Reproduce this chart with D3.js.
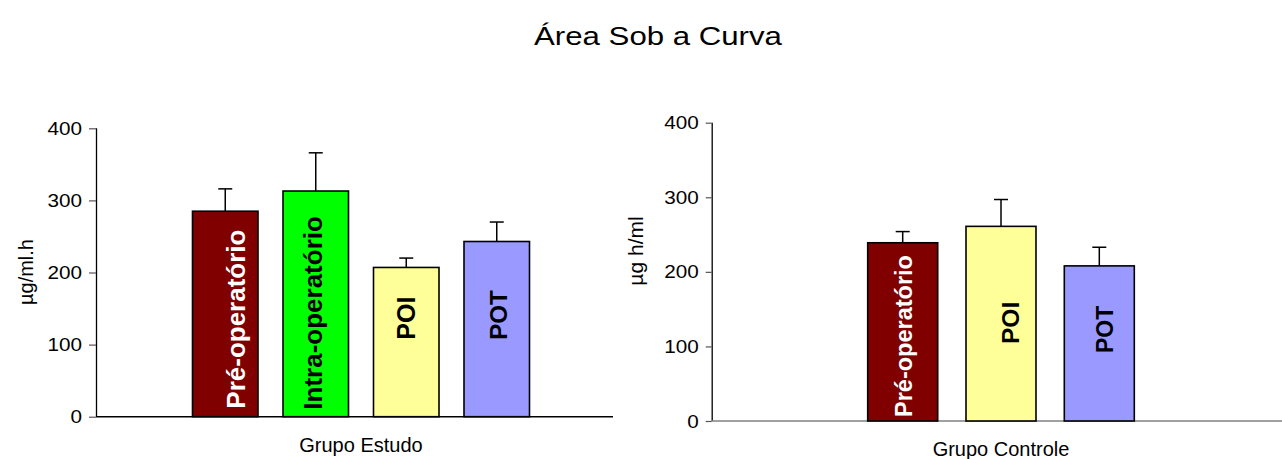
<!DOCTYPE html>
<html>
<head>
<meta charset="utf-8">
<script src="https://cdn.jsdelivr.net/npm/d3@7"></script>
<style>
  html, body { margin: 0; padding: 0; background: #fff; }
  svg { display: block; font-family: Arial, "Liberation Sans", sans-serif; }
</style>
</head>
<body>
<svg id="chart" width="1282" height="459"></svg>
<script>
// Área sob a curva — grupo estudo e grupo controle
const title = "Área Sob a Curva";
const yTicks = [0, 100, 200, 300, 400];

const estudoCats   = ["Pré-operatório", "Intra-operatório", "POI", "POT"];
const estudoMeans  = [285, 313, 207, 243];
const estudoErrors = [31, 53, 13, 27];

const controleCats   = ["Pré-operatório", "POI", "POT"];
const controleMeans  = [239, 261, 208];
const controleErrors = [15, 36, 25];

const fills = {
  "Pré-operatório": "#800000",
  "Intra-operatório": "#00ff00",
  "POI": "#ffff99",
  "POT": "#9999ff"
};
const labelColors = {
  "Pré-operatório": "#ffffff",
  "Intra-operatório": "#000000",
  "POI": "#000000",
  "POT": "#000000"
};

const svg = d3.select("#chart");

// horizontally widened text, anchored at (x, y)
function wideText(g, x, y, str, size, sx, anchor) {
  return g.append("text")
    .attr("transform", `translate(${x},${y}) scale(${sx},1)`)
    .attr("text-anchor", anchor)
    .attr("font-size", size)
    .attr("fill", "#000")
    .text(str);
}

wideText(svg, 658, 45, title, 26, 1.2, "middle");

const panels = [
  {
    cats: estudoCats, means: estudoMeans, errs: estudoErrors,
    group: "Grupo Estudo", yLabel: "µg/ml.h",
    axisX: 96, xEnd: 613, yTop: 128.3, yBot: 416.7,
    center: 361, step: 90.5, barW: 65.5, tick: 7,
    baseColor: "#000", yLabelX: 28, yLabelY: 272, yLabelSize: 20,
    groupY: 452, labelSize: [26, 26, 25, 24],
    labelEnd: [8, 7, 77, 77], labelDx: [9, -4, -2, 0]
  },
  {
    cats: controleCats, means: controleMeans, errs: controleErrors,
    group: "Grupo Controle", yLabel: "µg h/ml",
    axisX: 711.7, xEnd: 1282, yTop: 122.7, yBot: 421,
    center: 1001, step: 98.3, barW: 70, tick: 6,
    baseColor: "#808080", yLabelX: 637, yLabelY: 251, yLabelSize: 21,
    groupY: 456, labelSize: [23.5, 24.5, 23],
    labelEnd: [4, 77, 68], labelDx: [0, 8, 4]
  }
];

panels.forEach(p => {
  const g = svg.append("g");
  const y = d3.scaleLinear().domain([0, 400]).range([p.yBot, p.yTop]);
  const n = p.cats.length;
  const pad = 1 - p.barW / p.step;
  const x = d3.scaleBand()
    .domain(p.cats)
    .range([p.center - n * p.step / 2, p.center + n * p.step / 2])
    .paddingInner(pad)
    .paddingOuter(pad / 2);

  // y axis
  const yAxis = d3.axisLeft(y).tickValues(yTicks).tickSize(p.tick).tickPadding(0).tickFormat(() => "");
  const ax = g.append("g").attr("transform", `translate(${p.axisX},0)`).call(yAxis);
  ax.select(".domain").attr("stroke", "#000").attr("stroke-width", 1.3).attr("d", `M0.5,${p.yTop}V${p.yBot}`);
  ax.selectAll(".tick line").attr("stroke", "#555").attr("stroke-width", 1.2);
  yTicks.forEach(t => {
    wideText(g, p.axisX - p.tick - 7, y(t) + 6.5, String(t), 18, 1.15, "end");
  });

  // baseline
  g.append("line")
    .attr("x1", p.axisX).attr("x2", p.xEnd)
    .attr("y1", y(0)).attr("y2", y(0))
    .attr("stroke", p.baseColor).attr("stroke-width", 1.5);

  // y axis title
  g.append("text")
    .attr("transform", `translate(${p.yLabelX},${p.yLabelY}) rotate(-90)`)
    .attr("text-anchor", "middle")
    .attr("dominant-baseline", "middle")
    .attr("font-size", p.yLabelSize)
    .text(p.yLabel);

  // group label
  g.append("text")
    .attr("x", p.center).attr("y", p.groupY)
    .attr("text-anchor", "middle")
    .attr("font-size", 20)
    .text(p.group);

  // error bars (upper only)
  p.cats.forEach((c, i) => {
    const cx = x(c) + x.bandwidth() / 2;
    g.append("line")
      .attr("x1", cx).attr("x2", cx)
      .attr("y1", y(p.means[i])).attr("y2", y(p.means[i] + p.errs[i]))
      .attr("stroke", "#000").attr("stroke-width", 1.5);
    g.append("line")
      .attr("x1", cx - 7).attr("x2", cx + 7)
      .attr("y1", y(p.means[i] + p.errs[i])).attr("y2", y(p.means[i] + p.errs[i]))
      .attr("stroke", "#000").attr("stroke-width", 1.5);
  });

  // bars
  g.selectAll("rect.bar")
    .data(p.cats)
    .join("rect")
    .attr("class", "bar")
    .attr("x", c => x(c))
    .attr("width", x.bandwidth())
    .attr("y", (c, i) => y(p.means[i]))
    .attr("height", (c, i) => y(0) - y(p.means[i]))
    .attr("fill", c => fills[c])
    .attr("stroke", "#000")
    .attr("stroke-width", 1.6);

  // rotated bar labels
  p.cats.forEach((c, i) => {
    const cx = x(c) + x.bandwidth() / 2 + p.labelDx[i];
    g.append("text")
      .attr("transform", `translate(${cx},${y(0) - p.labelEnd[i]}) rotate(-90)`)
      .attr("text-anchor", "start")
      .attr("dominant-baseline", "central")
      .attr("dy", "0.06em")
      .attr("font-size", p.labelSize[i])
      .attr("font-weight", "bold")
      .attr("fill", labelColors[c])
      .text(c);
  });
});
</script>
</body>
</html>
